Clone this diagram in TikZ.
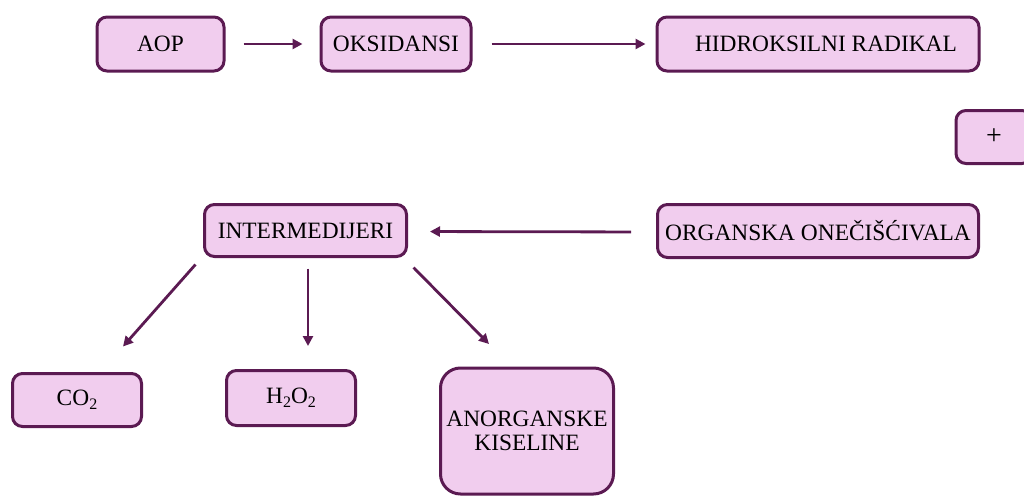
\documentclass[tikz,border=0pt]{standalone}
\usepackage{fontspec}
\setmainfont{Liberation Serif}
\usetikzlibrary{arrows.meta}
\definecolor{boxfill}{HTML}{F1CDEE}
\definecolor{boxdraw}{HTML}{5B1A52}
\newcommand{\lowsub}[1]{\raisebox{-0.35ex}{\fontsize{8}{8}\selectfont #1}}
\begin{document}
\begin{tikzpicture}[x=0.5pt,y=-0.5pt,
  pbox/.style={draw=boxdraw,fill=boxfill,line width=1.5pt,rounded corners=5pt,
    inner sep=0pt,align=center,font=\fontsize{11.7}{12}\selectfont},
  conn/.style={draw=boxdraw,line width=1.4pt,-{Triangle[length=5pt,width=5pt]}}]
\useasboundingbox (0,0) rectangle (1024,498);
\clip (0,0) rectangle (1024,498);
\node[pbox,minimum width=63.5pt,minimum height=27pt] (aop) at (160.5,44) {AOP};
\node[pbox,minimum width=75pt,minimum height=27pt] (oks) at (396,44) {OKSIDANSI};
\node[pbox,minimum width=161pt,minimum height=27pt] (hid) at (818,44) {\hspace*{8pt}HIDROKSILNI RADIKAL};
\node[pbox,minimum width=38pt,minimum height=26.5pt,font=\fontsize{14}{14}\selectfont] (plus) at (994,137) {+};
\node[pbox,minimum width=101pt,minimum height=26pt] (inter) at (305.5,230.5) {INTERMEDIJERI};
\node[pbox,minimum width=160.5pt,minimum height=26.5pt] (org) at (818,231) {ORGANSKA ONEČIŠĆIVALA};
\node[pbox,minimum width=64.5pt,minimum height=26.5pt] (co2) at (77,400) {CO\lowsub{2}};
\node[pbox,minimum width=64.5pt,minimum height=27.5pt] (h2o2) at (291,398) {H\lowsub{2}O\lowsub{2}};
\node[pbox,rounded corners=10pt,minimum width=86.5pt,minimum height=63pt] (anorg) at (527,431) {\raisebox{-2pt}{ANORGANSKE}\\\raisebox{-2pt}{KISELINE}};
\draw[conn,shorten <=9pt,shorten >=8.5pt] (aop.east) -- (oks.west);
\draw[conn,shorten <=9.5pt,shorten >=5pt] (oks.east) -- (hid.west);
\draw[conn,shorten <=12.5pt,shorten >=11pt] ([yshift=-0.5pt]org.west) -- ([yshift=-0.5pt]inter.east);
\draw[conn] ([shift={(-7.5,6.5)}]inter.south west) -- ([shift={(46,-25.5)}]co2.north);
\draw[conn] ([shift={(2.5,10.5)}]inter.south) -- ([shift={(17,-23)}]h2o2.north);
\draw[conn] ([shift={(5.5,9.5)}]inter.south east) -- ([shift={(-38,-22.5)}]anorg.north);
\end{tikzpicture}
\end{document}
